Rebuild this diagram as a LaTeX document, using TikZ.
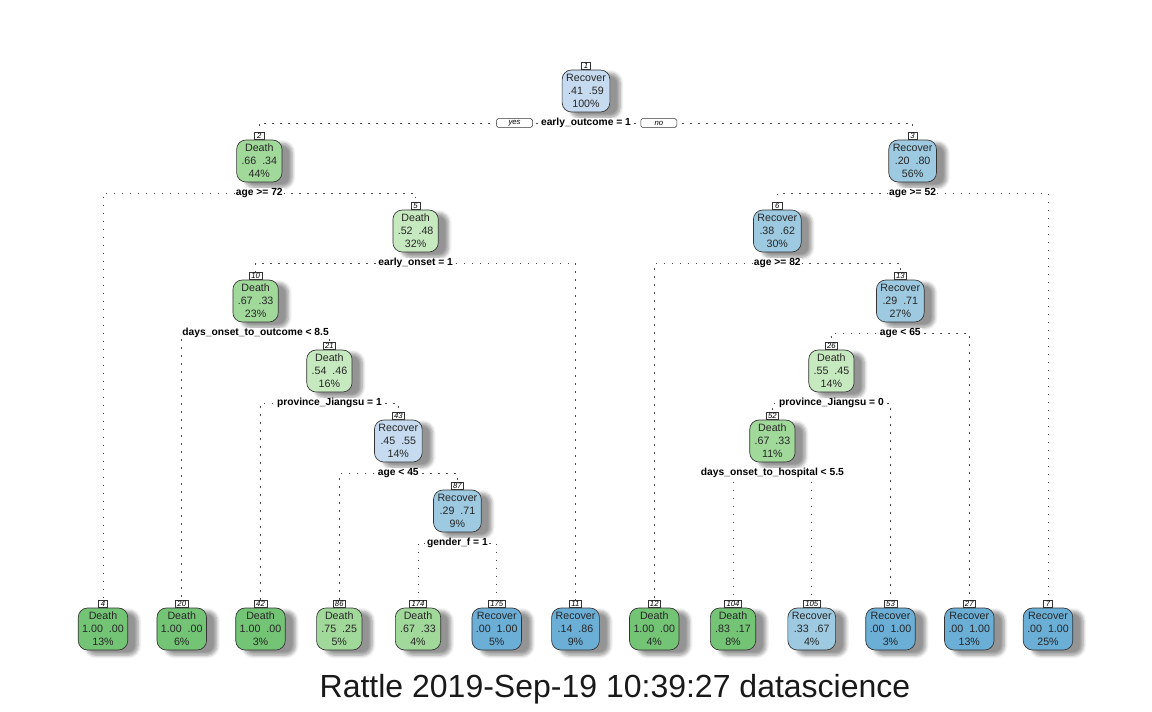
\documentclass[tikz,border=0pt]{standalone}
\usepackage{fontspec}
\setmainfont{Liberation Sans}
\usetikzlibrary{positioning, backgrounds, shadows.blur}

\definecolor{gA}{HTML}{74C476}
\definecolor{gB}{HTML}{A1D99B}
\definecolor{gC}{HTML}{C7E9C0}
\definecolor{bA}{HTML}{6BAED6}
\definecolor{bB}{HTML}{9ECAE1}
\definecolor{bC}{HTML}{C6DBEF}

\tikzset{
  box/.style={draw=black!80, line width=0.5pt, rounded corners=7pt, align=center,
    minimum height=31.5pt, minimum width=34pt, inner xsep=3pt, inner ysep=1pt,
    font=\fontsize{8}{9.75}\selectfont, text=black!85,
    blur shadow={shadow xshift=6.5pt, shadow yshift=-3pt, shadow scale=1.05,
      shadow blur steps=6, shadow blur radius=2.5pt, shadow opacity=42}},
  num/.style={draw=black!80, fill=white, line width=0.35pt, inner xsep=1.5pt, inner ysep=0.8pt,
    minimum width=7pt, font=\fontsize{5.8}{5.8}\selectfont\itshape},
  split/.style={fill=white, inner xsep=1pt, inner ysep=0.5pt, font=\fontsize{7.7}{8}\selectfont\bfseries},
  yn/.style={draw=black!80, fill=white, line width=0.4pt, rounded corners=1.2pt, minimum width=27pt,
    minimum height=6.5pt, inner sep=0.6pt, font=\fontsize{5.8}{6}\selectfont\itshape},
  edge/.style={draw=black!70, line width=0.7pt, dash pattern=on 1.3pt off 4.7pt}
}

\begin{document}
\begin{tikzpicture}[x=0.75pt, y=-0.75pt]
\useasboundingbox (0,0) rectangle (1152,711);

% inner nodes
\node[box, fill=bC] (n1) at (586,91) {Recover\\.41~~.59\\100\%};
\node[box, fill=gB] (n2) at (259.3,161) {Death\\.66~~.34\\44\%};
\node[box, fill=bB] (n3) at (912.6,161) {Recover\\.20~~.80\\56\%};
\node[box, fill=gC] (n5) at (415.6,231) {Death\\.52~~.48\\32\%};
\node[box, fill=bB] (n6) at (777.3,231) {Recover\\.38~~.62\\30\%};
\node[box, fill=gB] (n10) at (255.6,301) {Death\\.67~~.33\\23\%};
\node[box, fill=bB] (n13) at (900.3,301) {Recover\\.29~~.71\\27\%};
\node[box, fill=gC] (n21) at (329.4,371) {Death\\.54~~.46\\16\%};
\node[box, fill=gC] (n26) at (831.4,371) {Death\\.55~~.45\\14\%};
\node[box, fill=bC] (n43) at (398.3,441) {Recover\\.45~~.55\\14\%};
\node[box, fill=gB] (n52) at (772.4,441) {Death\\.67~~.33\\11\%};
\node[box, fill=bB] (n87) at (457.4,511) {Recover\\.29~~.71\\9\%};

% leaves
\node[box, fill=gA] (n4) at (103,629) {Death\\1.00~~.00\\13\%};
\node[box, fill=gA] (n20) at (181.75,629) {Death\\1.00~~.00\\6\%};
\node[box, fill=gA] (n42) at (260.5,629) {Death\\1.00~~.00\\3\%};
\node[box, fill=gB] (n86) at (339.25,629) {Death\\.75~~.25\\5\%};
\node[box, fill=gB] (n174) at (418,629) {Death\\.67~~.33\\4\%};
\node[box, fill=bA] (n175) at (496.75,629) {Recover\\.00~~1.00\\5\%};
\node[box, fill=bA] (n11) at (575.5,629) {Recover\\.14~~.86\\9\%};
\node[box, fill=gA] (n12) at (654.25,629) {Death\\1.00~~.00\\4\%};
\node[box, fill=gA] (n104) at (733,629) {Death\\.83~~.17\\8\%};
\node[box, fill=bB] (n105) at (811.75,629) {Recover\\.33~~.67\\4\%};
\node[box, fill=bA] (n53) at (890.5,629) {Recover\\.00~~1.00\\3\%};
\node[box, fill=bA] (n27) at (969.25,629) {Recover\\.00~~1.00\\13\%};
\node[box, fill=bA] (n7) at (1048,629) {Recover\\.00~~1.00\\25\%};

% node numbers
\node[num, above=0pt of n1] (k1) {1};
\node[num, above=0pt of n2] (k2) {2};
\node[num, above=0pt of n3] (k3) {3};
\node[num, above=0pt of n5] (k5) {5};
\node[num, above=0pt of n6] (k6) {6};
\node[num, above=0pt of n10] (k10) {10};
\node[num, above=0pt of n13] (k13) {13};
\node[num, above=0pt of n21] (k21) {21};
\node[num, above=0pt of n26] (k26) {26};
\node[num, above=0pt of n43] (k43) {43};
\node[num, above=0pt of n52] (k52) {52};
\node[num, above=0pt of n87] (k87) {87};
\node[num, above=0pt of n4] (k4) {4};
\node[num, above=0pt of n20] (k20) {20};
\node[num, above=0pt of n42] (k42) {42};
\node[num, above=0pt of n86] (k86) {86};
\node[num, above=0pt of n174] (k174) {174};
\node[num, above=0pt of n175] (k175) {175};
\node[num, above=0pt of n11] (k11) {11};
\node[num, above=0pt of n12] (k12) {12};
\node[num, above=0pt of n104] (k104) {104};
\node[num, above=0pt of n105] (k105) {105};
\node[num, above=0pt of n53] (k53) {53};
\node[num, above=0pt of n27] (k27) {27};
\node[num, above=0pt of n7] (k7) {7};

% split labels
\node[split] (s1) at (586,123) {early\_outcome = 1};
\node[split] (s2) at (259.3,193) {age >= 72};
\node[split] (s3) at (912.6,193) {age >= 52};
\node[split] (s5) at (415.6,263) {early\_onset = 1};
\node[split] (s6) at (777.3,263) {age >= 82};
\node[split] (s10) at (255.6,333) {days\_onset\_to\_outcome < 8.5};
\node[split] (s13) at (900.3,333) {age < 65};
\node[split] (s21) at (329.4,403) {province\_Jiangsu = 1};
\node[split] (s26) at (831.4,403) {province\_Jiangsu = 0};
\node[split] (s43) at (398.3,473) {age < 45};
\node[split] (s52) at (772.4,473) {days\_onset\_to\_hospital < 5.5};
\node[split] (s87) at (457.4,543) {gender\_f = 1};
\node[yn, left=5pt of s1] (yes) {yes};
\node[yn, right=6pt of s1] (no) {no};

% connectors
\begin{scope}[on background layer]
\draw[edge] (s1.center) -| (k2.north);
\draw[edge] (s1.center) -| (k3.north);
\draw[edge] (s2.center) -| (k4.north);
\draw[edge] (s2.center) -| (k5.north);
\draw[edge] (s3.center) -| (k6.north);
\draw[edge] (s3.center) -| (k7.north);
\draw[edge] (s5.center) -| (k10.north);
\draw[edge] (s5.center) -| (k11.north);
\draw[edge] (s6.center) -| (k12.north);
\draw[edge] (s6.center) -| (k13.north);
\draw[edge] (s10.center) -| (k20.north);
\draw[edge] (s10.center) -| (k21.north);
\draw[edge] (s13.center) -| (k26.north);
\draw[edge] (s13.center) -| (k27.north);
\draw[edge] (s21.center) -| (k42.north);
\draw[edge] (s21.center) -| (k43.north);
\draw[edge] (s26.center) -| (k52.north);
\draw[edge] (s26.center) -| (k53.north);
\draw[edge] (s43.center) -| (k86.north);
\draw[edge] (s43.center) -| (k87.north);
\draw[edge] (s52.center) -| (k104.north);
\draw[edge] (s52.center) -| (k105.north);
\draw[edge] (s87.center) -| (k174.north);
\draw[edge] (s87.center) -| (k175.north);
\end{scope}

\node[font=\fontsize{24}{28}\selectfont, text=black!90] (title) at (615,689) {Rattle 2019-Sep-19 10:39:27 datascience};
\end{tikzpicture}
\end{document}
